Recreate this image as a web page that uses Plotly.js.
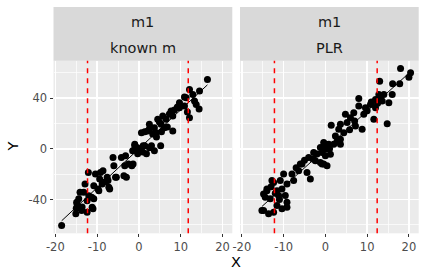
<!DOCTYPE html>
<html><head><meta charset="utf-8">
<script src="https://cdn.plot.ly/plotly-3.0.1.min.js"></script>
<style>html,body{margin:0;padding:0;background:#fff;}#chart{width:426px;height:278px;}</style>
</head><body><div id="chart"></div>
<script>
// ---- data ----
const stripTop = ["m1", "m1"];
const panelLabels = ["known m", "PLR"];
const xTicks = [-20, -10, 0, 10, 20];
const yTicks = [-40, 0, 40];
const xTitle = "X";
const yTitle = "Y";

const knownX = [-18.5,-15.1,-15,-14.9,-14.8,-14.4,-14.1,-13.7,-13.6,-13.2,-12.9,-12.4,-12.4,-12.1,-12,-11.3,-11.2,-11,-10.8,-10.8,-10.4,-9.8,-9.6,-9.4,-9.2,-8.8,-8.6,-8,-7.6,-7.4,-7.2,-7,-6.2,-6,-5.6,-5.4,-4.2,-3.6,-3.4,-3.2,-3,-2.5,-1.7,-1.4,-1.5,-1,-1,-0.5,-0.3,0.2,0.6,0.9,1,1.4,1.4,1.8,2.1,2.5,2.5,2.5,3,3.3,3.7,3.7,4.1,4.2,4.5,4.9,5.2,5.3,5.4,5.7,6.1,6.5,6.8,7.3,7.7,8.1,8.1,8.5,9.2,9.7,9.7,10.9,10.9,11.3,11.6,12.1,12.1,12.9,13.3,13.7,14.4,14.5,16.4];
const knownY = [-60.5,-51.3,-47,-42.2,-43.5,-39.5,-34.3,-48.7,-46,-34.3,-27.7,-40.9,-50,-18.6,-37,-38.3,-46.1,-47.4,-39.5,-29.1,-19.9,-31.7,-33,-23.8,-18.6,-27.7,-17.3,-26,-22.5,-25.1,-30.4,-31.7,-6.8,-13.4,-22.5,-22.5,-6.8,-21.2,-13.4,-5.5,-22.5,-12,-13.4,-12,-1.6,2.4,3.7,1,-3.9,0,12.8,-2.4,2.4,2.4,13.4,-3.9,14.1,0.8,19.4,15.7,2.4,11.8,16.7,-1.6,12.8,9.4,23.3,21.2,2.4,19.4,13.4,25.9,16.7,23.3,17.3,27.5,29.9,25.9,14.1,30.6,33,36.4,32.5,33.8,41,40.3,29,46.9,24.6,43,37.7,35.1,31.4,45.6,54.8];

const plrX = [-15.2,-14.8,-14.8,-14.4,-14,-14,-13.6,-13.2,-13,-12.8,-12.4,-12.4,-12,-11.6,-11.6,-11.2,-11,-10.8,-10.4,-10.4,-10,-9.6,-9.2,-9.2,-9.2,-8,-7.6,-7,-6.4,-6,-5.6,-5,-4.4,-4,-3.6,-3,-2.8,-2.4,-2,-1.2,-1.2,-0.8,-0.8,-0.4,-0.4,-0.4,0,0,0.4,0.8,1,1.2,1.4,2,2.4,2.8,3.2,3.6,3.6,3.6,4.4,4.8,5.2,5.8,6,6.8,7,7.2,8,8,8.8,9.2,9.6,10,10.8,11,11.6,12,12,12.5,12.8,13,13.2,13.6,14,14.8,15.2,16,16.1,17.8,18,20,20.4];
const plrY = [-48.7,-48.7,-35.6,-38.3,-31.7,-33,-51.3,-39.5,-30,-25.1,-26.5,-50,-35,-44.8,-33,-36.9,-40,-25.1,-31.7,-47.4,-19.9,-36.9,-42.2,-27.7,-46.1,-19.9,-25.1,-15,-17.3,-12,-12,-9,-18.6,-6.8,-23.8,-8,-2.9,-9.4,-4,1,-10.8,-2.9,-12,5,1,-12,-0.3,-5.5,-13.4,3.7,0,-4.2,18.6,3.7,10.2,6,15.5,7.6,19.4,3.7,12.8,27.3,20.7,15,24.6,28.5,22,18.1,39.8,33.8,15.5,27.3,32.5,30,35.1,37,23.3,39,32.5,36,43,53.4,40,37.7,43,19.9,36.4,43,51.3,51.3,63.4,56.6,60];

const vlinesKnown = [-12.3, 11.8];
const vlinesPLR = [-12.2, 12.4];

// ---- helpers ----
function lmLine(xs, ys) {
  const n = xs.length;
  const mx = xs.reduce((a, b) => a + b, 0) / n;
  const my = ys.reduce((a, b) => a + b, 0) / n;
  let sxy = 0, sxx = 0;
  for (let i = 0; i < n; i++) { sxy += (xs[i] - mx) * (ys[i] - my); sxx += (xs[i] - mx) ** 2; }
  const b = sxy / sxx, a = my - b * mx;
  const x0 = Math.min(...xs), x1 = Math.max(...xs);
  return { x: [x0, x1], y: [a + b * x0, a + b * x1] };
}

const W = 426, H = 278;
const xd1 = [53.5 / W, 232.3 / W];
const xd2 = [240 / W, 418.7 / W];
const yd = [(H - 233.3) / H, (H - 60.7) / H];
const stripTopY = (H - 7) / H;

const allX = knownX.concat(plrX), allY = knownY.concat(plrY);
function expand(v) { const lo = Math.min(...v), hi = Math.max(...v), d = (hi - lo) * 0.05; return [lo - d, hi + d]; }
const xr = expand(allX), yr = expand(allY);

const fitK = lmLine(knownX, knownY), fitP = lmLine(plrX, plrY);

const traces = [
  { x: fitK.x, y: fitK.y, xaxis: 'x', yaxis: 'y', mode: 'lines', line: { color: '#000', width: 1 }, hoverinfo: 'skip', showlegend: false },
  { x: knownX, y: knownY, xaxis: 'x', yaxis: 'y', mode: 'markers', marker: { color: '#000', size: 7 }, showlegend: false },
  { x: fitP.x, y: fitP.y, xaxis: 'x2', yaxis: 'y2', mode: 'lines', line: { color: '#000', width: 1 }, hoverinfo: 'skip', showlegend: false },
  { x: plrX, y: plrY, xaxis: 'x2', yaxis: 'y2', mode: 'markers', marker: { color: '#000', size: 7 }, showlegend: false }
];

const tickFont = { family: 'DejaVu Sans, sans-serif', size: 11.5, color: '#4D4D4D' };
const xBase = {
  range: xr, tickmode: 'array', tickvals: xTicks, ticktext: xTicks.map(String),
  showgrid: true, gridcolor: '#FFFFFF', gridwidth: 1.4, zeroline: false, showline: false,
  ticks: 'outside', ticklen: 3, tickwidth: 1, tickcolor: '#333333',
  tickfont: tickFont,
  minor: { tickmode: 'array', tickvals: [-15, -5, 5, 15], gridcolor: '#FFFFFF', gridwidth: 0.7, showgrid: true, ticks: '' },
  fixedrange: true
};
const yBase = {
  range: yr, domain: yd, tickmode: 'array', tickvals: yTicks, ticktext: yTicks.map(String),
  showgrid: true, gridcolor: '#FFFFFF', gridwidth: 1.4, zeroline: false, showline: false,
  ticks: 'outside', ticklen: 3, tickwidth: 1, tickcolor: '#333333',
  tickfont: tickFont,
  minor: { tickmode: 'array', tickvals: [-60, -20, 20, 60], gridcolor: '#FFFFFF', gridwidth: 0.7, showgrid: true, ticks: '' },
  fixedrange: true
};

const shapes = [];
[xd1, xd2].forEach(d => {
  shapes.push({ type: 'rect', xref: 'paper', yref: 'paper', x0: d[0], x1: d[1], y0: yd[1], y1: stripTopY, fillcolor: '#D9D9D9', line: { width: 0 }, layer: 'below' });
});
vlinesKnown.forEach(v => shapes.push({ type: 'line', xref: 'x', yref: 'y domain', x0: v, x1: v, y0: 0, y1: 1, line: { color: '#FF0000', width: 1.5, dash: '5px,5px' }, layer: 'above' }));
vlinesPLR.forEach(v => shapes.push({ type: 'line', xref: 'x2', yref: 'y2 domain', x0: v, x1: v, y0: 0, y1: 1, line: { color: '#FF0000', width: 1.5, dash: '5px,5px' }, layer: 'above' }));

const stripFont = { family: 'DejaVu Sans, sans-serif', size: 14.5, color: '#1A1A1A' };
const annotations = [];
[xd1, xd2].forEach((d, i) => {
  annotations.push({ xref: 'paper', yref: 'paper', x: (d[0] + d[1]) / 2, y: (H - 22) / H, text: stripTop[i], showarrow: false, xanchor: 'center', yanchor: 'middle', font: stripFont });
  annotations.push({ xref: 'paper', yref: 'paper', x: (d[0] + d[1]) / 2, y: (H - 47.5) / H, text: panelLabels[i], showarrow: false, xanchor: 'center', yanchor: 'middle', font: stripFont });
});
const titleFont = { family: 'DejaVu Sans, sans-serif', size: 14.5, color: '#000000' };
annotations.push({ xref: 'paper', yref: 'paper', x: ((xd1[0] + xd2[1]) / 2), y: (H - 262) / H, text: xTitle, showarrow: false, xanchor: 'center', yanchor: 'middle', font: titleFont });
annotations.push({ xref: 'paper', yref: 'paper', x: 12.5 / W, y: (H - 147) / H, text: yTitle, textangle: -90, showarrow: false, xanchor: 'center', yanchor: 'middle', font: titleFont });

const layout = {
  width: W, height: H, margin: { l: 0, r: 0, t: 0, b: 0 },
  paper_bgcolor: '#FFFFFF', plot_bgcolor: '#EBEBEB', showlegend: false,
  xaxis: Object.assign({}, xBase, { domain: xd1, anchor: 'y' }),
  xaxis2: Object.assign({}, xBase, { domain: xd2, anchor: 'y2' }),
  yaxis: Object.assign({}, yBase, { anchor: 'x' }),
  yaxis2: Object.assign({}, yBase, { anchor: 'x2', matches: 'y', showticklabels: false, ticks: '' }),
  shapes: shapes, annotations: annotations
};

Plotly.newPlot('chart', traces, layout, { displayModeBar: false, staticPlot: true });
</script>
</body></html>
